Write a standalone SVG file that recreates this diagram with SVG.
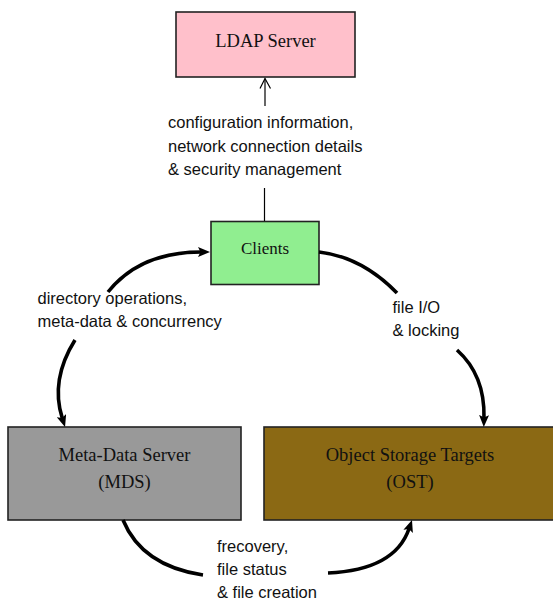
<svg xmlns="http://www.w3.org/2000/svg" width="553" height="601" viewBox="0 0 553 601">
<style>
.box{stroke:#222;stroke-width:1.6}
.nt{font-family:"Liberation Serif","Times New Roman",serif;font-size:18.5px;fill:#111;text-anchor:middle}
.lbl{font-family:"Liberation Sans",Arial,sans-serif;font-size:16.5px;fill:#111}
.thick{fill:none;stroke:#000;stroke-width:3.6}
.thin{fill:none;stroke:#000;stroke-width:1.2}
</style>
<defs>
<marker id="ah" viewBox="0 0 12 10" markerWidth="12" markerHeight="10" refX="3" refY="5" orient="auto" markerUnits="userSpaceOnUse">
<path d="M0,0 L12,5 L0,10 L2.5,5 z" fill="#000"/>
</marker>
</defs>
<rect width="553" height="601" fill="#fff"/>
<g id="ldap">
<rect class="box" x="176" y="12" width="179" height="65" fill="#ffc0cb"/>
<text class="nt" x="265.5" y="47">LDAP Server</text>
</g>
<g id="clients">
<rect class="box" x="211" y="221.5" width="108" height="63" fill="#90ee90"/>
<text class="nt" x="265" y="254" style="font-size:17px">Clients</text>
</g>
<g id="mds">
<rect class="box" x="8" y="427" width="233" height="93" fill="#999999"/>
<text class="nt" x="124.5" y="461">Meta-Data Server</text>
<text class="nt" x="124.5" y="488">(MDS)</text>
</g>
<g id="ost">
<rect class="box" x="264" y="427" width="292" height="93" fill="#8b6914"/>
<text class="nt" x="410" y="461">Object Storage Targets</text>
<text class="nt" x="410" y="488">(OST)</text>
</g>
<g id="connectors">
<line class="thin" x1="265" y1="106" x2="265" y2="78.5"/>
<polyline class="thin" points="260,88.5 265,78.5 270.5,88.5"/>
<line class="thin" x1="264.5" y1="188" x2="264.5" y2="221"/>
<path class="thick" d="M108,292 Q140,252 201,252" marker-end="url(#ah)"/>
<path class="thick" d="M75,340 Q50,380 62.3,418.4" marker-end="url(#ah)"/>
<path class="thick" d="M319,252 Q362,257 397,293"/>
<path class="thick" d="M457,350 Q485,375 484,418" marker-end="url(#ah)"/>
<path class="thick" d="M123,520 Q142,566 203,575"/>
<path class="thick" d="M328,573 Q395,570 409.1,528.5" marker-end="url(#ah)"/>
</g>
<g id="labels">
<text class="lbl" x="168" y="128">configuration information,</text>
<text class="lbl" x="168" y="151.5">network connection details</text>
<text class="lbl" x="168" y="175">&amp; security management</text>
<text class="lbl" x="37.5" y="304">directory operations,</text>
<text class="lbl" x="37.5" y="327">meta-data &amp; concurrency</text>
<text class="lbl" x="392.5" y="312.5">file I/O</text>
<text class="lbl" x="392.5" y="336">&amp; locking</text>
<text class="lbl" x="217" y="551.5">frecovery,</text>
<text class="lbl" x="217" y="574.5">file status</text>
<text class="lbl" x="217" y="598">&amp; file creation</text>
</g>
</svg>
